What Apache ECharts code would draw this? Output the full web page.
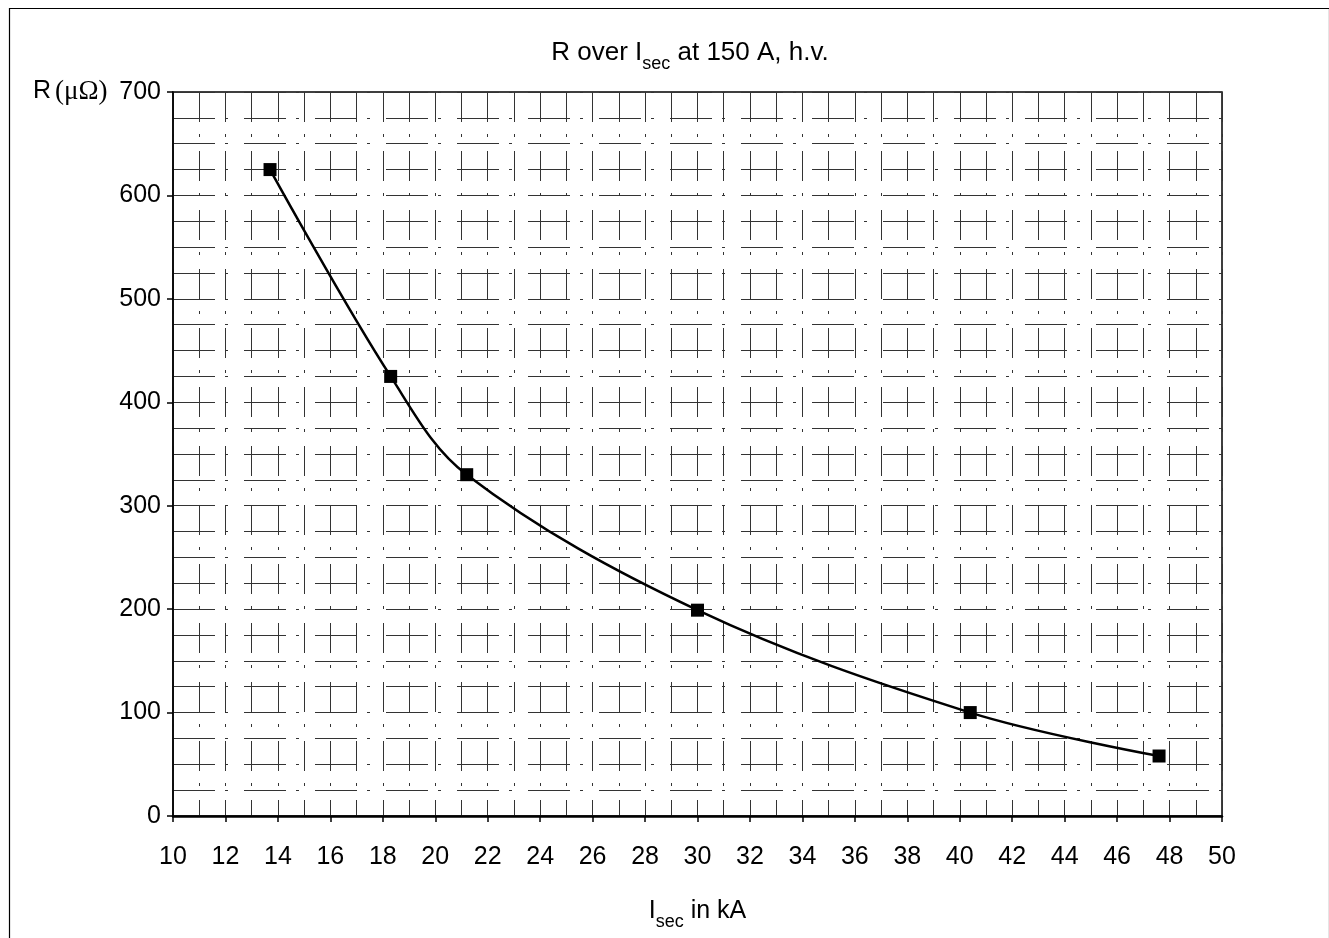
<!DOCTYPE html>
<html>
<head>
<meta charset="utf-8">
<script src="https://cdn.jsdelivr.net/npm/echarts@6/dist/echarts.min.js"></script>
<style>
html,body{margin:0;padding:0;background:#fff;}
#chart{width:1329px;height:938px;}
</style>
</head>
<body>
<div id="chart"></div>
<script>
// Data
const isecKA = [13.7, 18.3, 21.2, 30.0, 40.4, 47.6];
const resistance = [625, 425, 330, 199, 100, 58];
const xTicks = [10,12,14,16,18,20,22,24,26,28,30,32,34,36,38,40,42,44,46,48,50];
const yTicks = [0,100,200,300,400,500,600,700];

const FONT = '"Liberation Sans", Arial, Helvetica, sans-serif';
const chart = echarts.init(document.getElementById('chart'), null, {renderer:'canvas'});

const vLine = {show:true, lineStyle:{color:'#333', width:1, type:[30,12,3,14]}};
const hLine = {show:true, lineStyle:{color:'#333', width:1, type:[42,10,3,16]}};

chart.setOption({
  animation:false,
  backgroundColor:'#fff',
  grid:{left:173, right:107, top:92, bottom:122, show:true, borderColor:'#000', borderWidth:1.5},
  title:{
    left:685, top:31, textAlign:'center',
    text:'{a|R over I}{s|sec}{a| at 150 A, h.v.}',
    textStyle:{rich:{
      a:{fontFamily:FONT, fontSize:26, fontWeight:'normal', color:'#000', verticalAlign:'bottom', lineHeight:30},
      s:{fontFamily:FONT, fontSize:18, fontWeight:'normal', color:'#000', verticalAlign:'bottom', padding:[0,0,-7,0], lineHeight:30}
    }}
  },
  graphic:[
    {type:'rect', left:7, top:6, shape:{width:1320, height:940},
     style:{fill:'none', stroke:'#000', lineWidth:1.2}, silent:true},
    {type:'text', left:33, top:78, style:{
      text:'{r|R}{p|(μΩ)}',
      rich:{
        r:{fontFamily:FONT, fontSize:25, fill:'#000', padding:[0,4,0,0]},
        p:{fontFamily:'"Liberation Serif", "Times New Roman", serif', fontSize:27, fill:'#000'}
      }
    }}
  ],
  xAxis:{
    type:'value', min:10, max:50, interval:2,
    axisLine:{show:true, onZero:false, lineStyle:{color:'#000', width:2.5}},
    axisTick:{show:true, length:6, lineStyle:{color:'#000', width:1.5}},
    axisLabel:{fontFamily:FONT, fontSize:25, color:'#000', margin:29,
      formatter:(v)=> xTicks.includes(v) ? String(v) : ''},
    splitLine:vLine,
    minorTick:{show:false, splitNumber:2},
    minorSplitLine:vLine,
    name:'{i|I}{s|sec}{i| in kA}',
    nameLocation:'middle', nameGap:78,
    nameTextStyle:{rich:{
      i:{fontFamily:FONT, fontSize:25, color:'#000', verticalAlign:'bottom', lineHeight:30},
      s:{fontFamily:FONT, fontSize:18, color:'#000', verticalAlign:'bottom', padding:[0,0,-7,0], lineHeight:30}
    }}
  },
  yAxis:{
    type:'value', min:0, max:700, interval:100,
    axisLine:{show:true, lineStyle:{color:'#000', width:1.5}},
    axisTick:{show:true, length:6, lineStyle:{color:'#000', width:1.5}},
    axisLabel:{fontFamily:FONT, fontSize:25, color:'#000', margin:12,
      formatter:(v)=> yTicks.includes(v) ? String(v) : ''},
    splitLine:hLine,
    minorTick:{show:false, splitNumber:4},
    minorSplitLine:hLine
  },
  series:[{
    type:'line',
    data:isecKA.map((x,i)=>[x, resistance[i]]),
    smooth:0.35,
    symbol:'rect', symbolSize:13,
    itemStyle:{color:'#000'},
    lineStyle:{color:'#000', width:2.5},
    z:10
  }]
});
</script>
</body>
</html>
